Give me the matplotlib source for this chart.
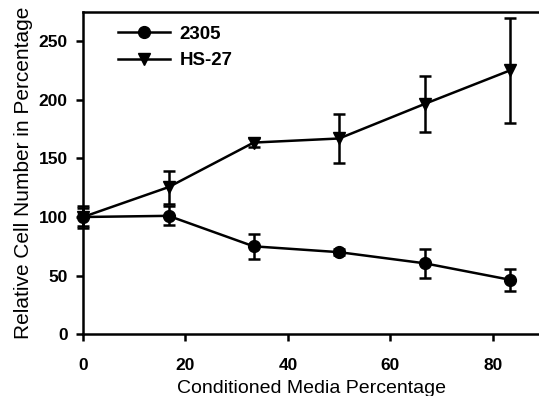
import matplotlib
matplotlib.use("Agg")
import matplotlib.pyplot as plt
from matplotlib.lines import Line2D

plt.rcParams['font.family'] = ['Liberation Sans', 'DejaVu Sans']

x = [0, 16.7, 33.3, 50, 66.7, 83.3]
cell_2305 = [100, 101, 75, 70, 60.5, 46.5]
err_2305 = [8, 8, 10.5, 2.5, 12.5, 9.5]
hs27 = [100, 125.5, 163.5, 167, 196.5, 225]
err_hs27 = [9, 14, 3.5, 21, 24, 44.5]

fig = plt.figure(figsize=(5.39, 3.96), dpi=100)
ax = fig.add_axes([0.154, 0.156, 0.846, 0.814])

ax.errorbar(x, cell_2305, yerr=err_2305, color='black', marker='o', markersize=8.5,
            linewidth=1.8, elinewidth=1.8, capsize=4, capthick=1.8, clip_on=False)
ax.errorbar(x, hs27, yerr=err_hs27, color='black', marker='v', markersize=8.5,
            linewidth=1.8, elinewidth=1.8, capsize=4, capthick=1.8, clip_on=False)

ax.set_xlim(0, 89)
ax.set_ylim(0, 275)
ax.set_xticks([0, 20, 40, 60, 80])
ax.set_yticks([0, 50, 100, 150, 200, 250])
ax.spines['right'].set_visible(False)
for s in ['left', 'bottom', 'top']:
    ax.spines[s].set_linewidth(1.8)
ax.tick_params(direction='out', length=5, width=1.8, labelsize=12.5)
ax.tick_params(axis='x', pad=12)
ax.tick_params(axis='y', pad=6)
for lbl in ax.get_xticklabels() + ax.get_yticklabels():
    lbl.set_fontweight('bold')

ax.set_xlabel('Conditioned Media Percentage', fontsize=14, labelpad=5)
ax.set_ylabel('Relative Cell Number in Percentage', fontsize=15, labelpad=4)

handles = [Line2D([], [], color='black', marker='o', markersize=8.5, linewidth=1.8),
           Line2D([], [], color='black', marker='v', markersize=8.5, linewidth=1.8)]
ax.legend(handles, ['2305', 'HS-27'], loc='upper left', frameon=False,
          prop={'weight': 'bold', 'size': 13.5}, handlelength=2.8, handletextpad=0.5,
          labelspacing=0.5, borderaxespad=0.0, bbox_to_anchor=(0.06, 0.98))

fig.savefig('out.png', dpi=100)
